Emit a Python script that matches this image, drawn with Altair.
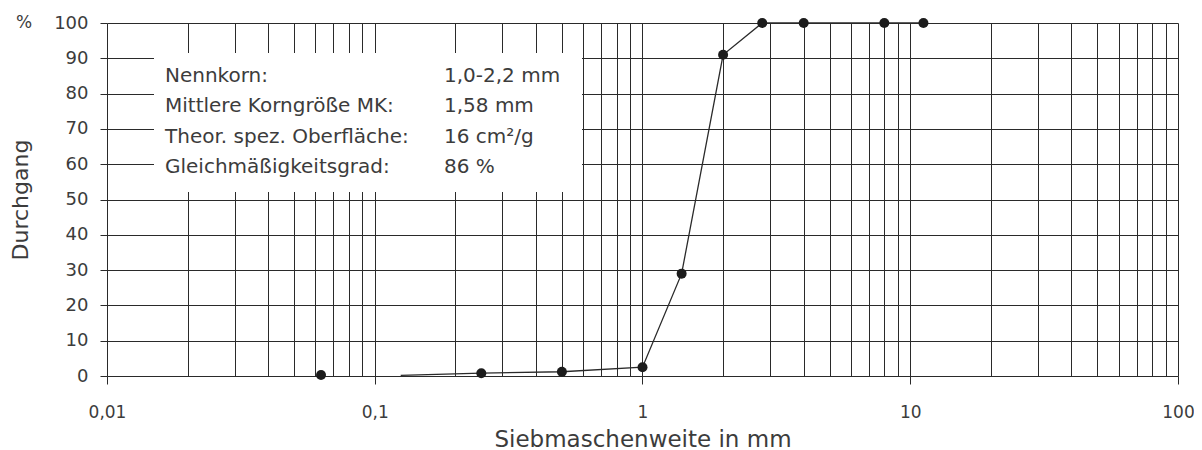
import altair as alt
import pandas as pd

# ---- data ----
mesh_mm = [0.063, 0.25, 0.5, 1.0, 1.4, 2.0, 2.8, 4.0, 8.0, 11.2]
passing_pct = [0.3, 0.8, 1.2, 2.5, 29, 91, 100, 100, 100, 100]

line_mm = [0.125, 0.25, 0.5, 1.0, 1.4, 2.0, 2.8, 4.0, 8.0, 11.2]
line_pct = [0.2, 0.8, 1.2, 2.5, 29, 91, 100, 100, 100, 100]

grid_x = [m * 10 ** e for e in (-2, -1, 0, 1) for m in range(1, 10)] + [100]
grid_x = [float(f"{v:.6g}") for v in grid_x]
grid_y = [0, 10, 20, 30, 40, 50, 60, 70, 80, 90, 100]

info_labels = ["Nennkorn:", "Mittlere Korngröße MK:", "Theor. spez. Oberfläche:", "Gleichmäßigkeitsgrad:"]
info_values = ["1,0-2,2 mm", "1,58 mm", "16 cm²/g", "86 %"]

x_title = "Siebmaschenweite in mm"
y_title = "Durchgang"

FONT = "DejaVu Sans"
TEXT = "#3c3c3c"
LINE = "#2a2a2a"

W, H = 1071, 353

pts = pd.DataFrame({"mm": mesh_mm, "pct": passing_pct})
lin = pd.DataFrame({"mm": line_mm, "pct": line_pct})

x_scale = alt.Scale(type="log", domain=[0.01, 100], nice=False)
y_scale = alt.Scale(domain=[0, 100], nice=False, zero=False)

decade_test = "indexof([0.01, 0.1, 1, 10, 100], datum.value) >= 0"
label_expr = ("datum.value == 0.01 ? '0,01' : datum.value == 0.1 ? '0,1' : "
              "datum.value == 1 ? '1' : datum.value == 10 ? '10' : "
              "datum.value == 100 ? '100' : ''")

x_axis = alt.Axis(
    values=grid_x, grid=True, gridColor=LINE, gridWidth=1, gridOpacity=1,
    domain=False, tickColor=LINE, tickWidth=1, tickSize=8,
    tickOpacity={"condition": {"test": decade_test, "value": 1}, "value": 0},
    labelExpr=label_expr, labelOverlap=False, labelFlush=False,
    labelFont=FONT, labelFontSize=17, labelColor=TEXT,
    labelBaseline="alphabetic", labelPadding=33,
    title=x_title, titleFont=FONT, titleFontSize=23, titleFontWeight="normal",
    titleColor=TEXT, titleBaseline="alphabetic", titleY=70,
)
y_axis = alt.Axis(
    values=grid_y, grid=True, gridColor=LINE, gridWidth=1, gridOpacity=1,
    domain=False, tickColor=LINE, tickWidth=1, tickSize=7,
    labelFont=FONT, labelFontSize=18, labelColor=TEXT, labelPadding=12,
    labelFlush=False, labelOverlap=False,
    title=y_title, titleFont=FONT, titleFontSize=22, titleFontWeight="normal",
    titleColor=TEXT, titleAngle=270, titleAlign="center",
    titleBaseline="alphabetic", titleX=-80, titleY=H / 2,
)

base_line = alt.Chart(lin).mark_line(color=LINE, strokeWidth=1.3).encode(
    x=alt.X("mm:Q", scale=x_scale, axis=x_axis),
    y=alt.Y("pct:Q", scale=y_scale, axis=y_axis),
)

points = alt.Chart(pts).mark_circle(size=100, color="#1c1c1c", opacity=1).encode(
    x=alt.X("mm:Q", scale=x_scale, axis=x_axis),
    y=alt.Y("pct:Q", scale=y_scale, axis=y_axis),
)

box = alt.Chart(pd.DataFrame({"a": [0]})).mark_rect(color="white", opacity=1).encode(
    x=alt.value(47), x2=alt.value(475), y=alt.value(30), y2=alt.value(169)
)

layers = [box, base_line, points]

for i, (lab, val) in enumerate(zip(info_labels, info_values)):
    yb = 59 + i * 30.3
    layers.append(
        alt.Chart(pd.DataFrame({"t": [lab]})).mark_text(
            font=FONT, fontSize=20, color=TEXT, align="left", baseline="alphabetic"
        ).encode(text="t:N", x=alt.value(58), y=alt.value(yb))
    )
    layers.append(
        alt.Chart(pd.DataFrame({"t": [val]})).mark_text(
            font=FONT, fontSize=20, color=TEXT, align="left", baseline="alphabetic"
        ).encode(text="t:N", x=alt.value(337), y=alt.value(yb))
    )

layers.append(
    alt.Chart(pd.DataFrame({"t": ["%"]})).mark_text(
        font=FONT, fontSize=17, color=TEXT, align="left", baseline="middle"
    ).encode(text="t:N", x=alt.value(-91), y=alt.value(0))
)

chart = alt.layer(*layers).properties(
    width=W, height=H,
    autosize=alt.AutoSizeParams(type="none"),
    padding={"left": 99, "top": 15, "right": 16, "bottom": 78},
    background="white",
).configure_view(stroke=None)

chart.save("out.html", embed_options={"renderer": "svg", "actions": False})
